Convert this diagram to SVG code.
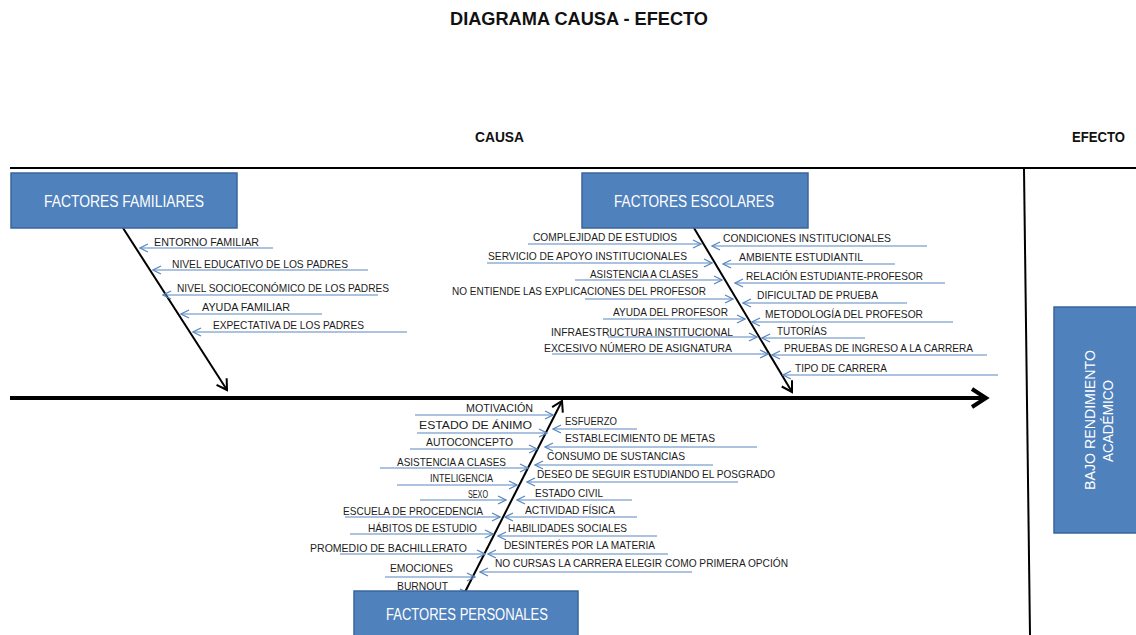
<svg xmlns="http://www.w3.org/2000/svg" width="1136" height="635" viewBox="0 0 1136 635">
<style>
.box{fill:#4f81bd;stroke:#3a659b;stroke-width:1.5}
.btxt{font-family:"Liberation Sans",Arial,sans-serif;font-size:16px;fill:#fff}
.vtxt{font-family:"Liberation Sans",Arial,sans-serif;font-size:14px;fill:#fff;text-anchor:middle}
.hdr{font-family:"Liberation Sans",Arial,sans-serif;font-weight:bold;fill:#111}
.lbl{font-family:"Liberation Sans",Arial,sans-serif;font-size:11px;fill:#1c1c1c}
.bone{stroke:#5a87c0;stroke-width:1.2;fill:none;marker-end:url(#ba)}
.diag{stroke:#000;stroke-width:2;fill:none;marker-end:url(#ka)}
.frame{stroke:#000;stroke-width:2;fill:none}
</style>
<defs>
<marker id="ba" markerUnits="userSpaceOnUse" markerWidth="10" markerHeight="10" viewBox="0 0 10 10" refX="9" refY="5" orient="auto">
<path d="M1,1 L9,5 L1,9" fill="none" stroke="#5a87c0" stroke-width="1.3"/>
</marker>
<marker id="ka" markerUnits="userSpaceOnUse" markerWidth="14" markerHeight="14" viewBox="0 0 14 14" refX="12" refY="7" orient="auto">
<path d="M2,1 L12,7 L2,13" fill="none" stroke="#000" stroke-width="2"/>
</marker>
<marker id="sa" markerUnits="userSpaceOnUse" markerWidth="22" markerHeight="22" viewBox="0 0 22 22" refX="18" refY="11" orient="auto">
<path d="M4,2 L18,11 L4,20" fill="none" stroke="#000" stroke-width="4"/>
</marker>
</defs>
<rect width="1136" height="635" fill="#fff"/>

<g id="headers">
<text class="hdr" x="450" y="25" font-size="18" textLength="258" lengthAdjust="spacingAndGlyphs">DIAGRAMA CAUSA - EFECTO</text>
<text class="hdr" x="475" y="142" font-size="15" textLength="49" lengthAdjust="spacingAndGlyphs">CAUSA</text>
<text class="hdr" x="1072" y="142" font-size="15" textLength="53" lengthAdjust="spacingAndGlyphs">EFECTO</text>
</g>

<g id="frame">
<line class="frame" x1="10" y1="168" x2="1136" y2="168"/>
<line class="frame" x1="1024" y1="169" x2="1030" y2="635"/>
</g>

<g id="connectors">
<line x1="10" y1="398" x2="986" y2="398" stroke="#000" stroke-width="4" marker-end="url(#sa)"/>
<line class="diag" x1="123" y1="228" x2="227" y2="390"/>
<line class="diag" x1="694" y1="228" x2="792" y2="392"/>
<line class="diag" x1="465" y1="592" x2="562" y2="401"/>
<!-- familiares -->
<line class="bone" x1="273" y1="248" x2="140" y2="248"/>
<line class="bone" x1="368" y1="270" x2="153" y2="270"/>
<line class="bone" x1="378" y1="295" x2="163" y2="295"/>
<line class="bone" x1="322" y1="314" x2="181" y2="314"/>
<line class="bone" x1="407" y1="332" x2="193" y2="332"/>
<!-- escolares left -->
<line class="bone" x1="528" y1="244" x2="701" y2="244"/>
<line class="bone" x1="487" y1="263" x2="712" y2="263"/>
<line class="bone" x1="575" y1="280" x2="722" y2="280"/>
<line class="bone" x1="585" y1="299" x2="733" y2="299"/>
<line class="bone" x1="603" y1="319" x2="745" y2="319"/>
<line class="bone" x1="608" y1="337" x2="757" y2="337"/>
<line class="bone" x1="552" y1="354" x2="768" y2="354"/>
<!-- escolares right -->
<line class="bone" x1="927" y1="246" x2="712" y2="246"/>
<line class="bone" x1="895" y1="264" x2="723" y2="264"/>
<line class="bone" x1="945" y1="283" x2="735" y2="283"/>
<line class="bone" x1="907" y1="303" x2="743" y2="303"/>
<line class="bone" x1="953" y1="322" x2="752" y2="322"/>
<line class="bone" x1="865" y1="338" x2="762" y2="338"/>
<line class="bone" x1="987" y1="355" x2="772" y2="355"/>
<line class="bone" x1="998" y1="375" x2="783" y2="375"/>
<!-- personales left -->
<line class="bone" x1="415" y1="415" x2="553" y2="415"/>
<line class="bone" x1="417" y1="433" x2="547" y2="433"/>
<line class="bone" x1="410" y1="449" x2="537" y2="449"/>
<line class="bone" x1="380" y1="468" x2="528" y2="468"/>
<line class="bone" x1="397" y1="485" x2="517" y2="485"/>
<line class="bone" x1="420" y1="500" x2="506" y2="500"/>
<line class="bone" x1="345" y1="517" x2="500" y2="517"/>
<line class="bone" x1="350" y1="534" x2="493" y2="534"/>
<line class="bone" x1="340" y1="554" x2="485" y2="554"/>
<line class="bone" x1="385" y1="577" x2="475" y2="577"/>
<line class="bone" x1="380" y1="593" x2="468" y2="593"/>
<!-- personales right -->
<line class="bone" x1="637" y1="429" x2="553" y2="429"/>
<line class="bone" x1="757" y1="447" x2="545" y2="447"/>
<line class="bone" x1="713" y1="465" x2="535" y2="465"/>
<line class="bone" x1="738" y1="482" x2="527" y2="482"/>
<line class="bone" x1="632" y1="500" x2="517" y2="500"/>
<line class="bone" x1="637" y1="517" x2="505" y2="517"/>
<line class="bone" x1="657" y1="536" x2="498" y2="536"/>
<line class="bone" x1="668" y1="554" x2="488" y2="554"/>
<line class="bone" x1="692" y1="572" x2="480" y2="572"/>
</g>

<g id="node-familiares">
<rect class="box" x="11" y="173" width="226" height="55"/>
<text class="btxt" x="44" y="207" textLength="160" lengthAdjust="spacingAndGlyphs">FACTORES FAMILIARES</text>
</g>
<g id="node-escolares">
<rect class="box" x="582" y="173" width="226" height="55"/>
<text class="btxt" x="614" y="207" textLength="160" lengthAdjust="spacingAndGlyphs">FACTORES ESCOLARES</text>
</g>
<g id="node-personales">
<rect class="box" x="354" y="591" width="224" height="50"/>
<text class="btxt" x="386" y="620" textLength="162" lengthAdjust="spacingAndGlyphs">FACTORES PERSONALES</text>
</g>
<g id="node-efecto">
<rect class="box" x="1054" y="307" width="90" height="226"/>
<text class="vtxt" transform="translate(1095,420) rotate(-90)" textLength="140" lengthAdjust="spacingAndGlyphs">BAJO RENDIMIENTO</text>
<text class="vtxt" transform="translate(1113,421) rotate(-90)" textLength="82" lengthAdjust="spacingAndGlyphs">ACADÉMICO</text>
</g>

<g id="causes-familiares">
<text class="lbl" x="154" y="246" textLength="105" lengthAdjust="spacingAndGlyphs">ENTORNO FAMILIAR</text>
<text class="lbl" x="172" y="268" textLength="176" lengthAdjust="spacingAndGlyphs">NIVEL EDUCATIVO DE LOS PADRES</text>
<text class="lbl" x="177" y="292" textLength="212" lengthAdjust="spacingAndGlyphs">NIVEL SOCIOECONÓMICO DE LOS PADRES</text>
<text class="lbl" x="202" y="311" textLength="88" lengthAdjust="spacingAndGlyphs">AYUDA FAMILIAR</text>
<text class="lbl" x="213" y="329" textLength="151" lengthAdjust="spacingAndGlyphs">EXPECTATIVA DE LOS PADRES</text>
</g>

<g id="causes-escolares">
<text class="lbl" x="533" y="241" textLength="144" lengthAdjust="spacingAndGlyphs">COMPLEJIDAD DE ESTUDIOS</text>
<text class="lbl" x="488" y="260" textLength="199" lengthAdjust="spacingAndGlyphs">SERVICIO DE APOYO INSTITUCIONALES</text>
<text class="lbl" x="590" y="278" textLength="108" lengthAdjust="spacingAndGlyphs">ASISTENCIA A CLASES</text>
<text class="lbl" x="452" y="295" textLength="254" lengthAdjust="spacingAndGlyphs">NO ENTIENDE LAS EXPLICACIONES DEL PROFESOR</text>
<text class="lbl" x="613" y="316" textLength="115" lengthAdjust="spacingAndGlyphs">AYUDA DEL PROFESOR</text>
<text class="lbl" x="551" y="336" textLength="182" lengthAdjust="spacingAndGlyphs">INFRAESTRUCTURA INSTITUCIONAL</text>
<text class="lbl" x="544" y="352" textLength="188" lengthAdjust="spacingAndGlyphs">EXCESIVO NÚMERO DE ASIGNATURA</text>
<text class="lbl" x="723" y="242" textLength="168" lengthAdjust="spacingAndGlyphs">CONDICIONES INSTITUCIONALES</text>
<text class="lbl" x="739" y="261" textLength="124" lengthAdjust="spacingAndGlyphs">AMBIENTE ESTUDIANTIL</text>
<text class="lbl" x="746" y="280" textLength="177" lengthAdjust="spacingAndGlyphs">RELACIÓN ESTUDIANTE-PROFESOR</text>
<text class="lbl" x="757" y="299" textLength="121" lengthAdjust="spacingAndGlyphs">DIFICULTAD DE PRUEBA</text>
<text class="lbl" x="765" y="318" textLength="158" lengthAdjust="spacingAndGlyphs">METODOLOGÍA DEL PROFESOR</text>
<text class="lbl" x="777" y="335" textLength="50" lengthAdjust="spacingAndGlyphs">TUTORÍAS</text>
<text class="lbl" x="784" y="352" textLength="189" lengthAdjust="spacingAndGlyphs">PRUEBAS DE INGRESO A LA CARRERA</text>
<text class="lbl" x="795" y="372" textLength="92" lengthAdjust="spacingAndGlyphs">TIPO DE CARRERA</text>
</g>

<g id="causes-personales">
<text class="lbl" x="466" y="412" textLength="67" lengthAdjust="spacingAndGlyphs">MOTIVACIÓN</text>
<text class="lbl" x="419" y="429" textLength="113" lengthAdjust="spacingAndGlyphs">ESTADO DE ÁNIMO</text>
<text class="lbl" x="426" y="446" textLength="87" lengthAdjust="spacingAndGlyphs">AUTOCONCEPTO</text>
<text class="lbl" x="397" y="466" textLength="109" lengthAdjust="spacingAndGlyphs">ASISTENCIA A CLASES</text>
<text class="lbl" x="430" y="482" textLength="63" lengthAdjust="spacingAndGlyphs">INTELIGENCIA</text>
<text class="lbl" x="468" y="498" textLength="20" lengthAdjust="spacingAndGlyphs">SEXO</text>
<text class="lbl" x="343" y="515" textLength="140" lengthAdjust="spacingAndGlyphs">ESCUELA DE PROCEDENCIA</text>
<text class="lbl" x="368" y="532" textLength="109" lengthAdjust="spacingAndGlyphs">HÁBITOS DE ESTUDIO</text>
<text class="lbl" x="310" y="552" textLength="157" lengthAdjust="spacingAndGlyphs">PROMEDIO DE BACHILLERATO</text>
<text class="lbl" x="390" y="572" textLength="63" lengthAdjust="spacingAndGlyphs">EMOCIONES</text>
<text class="lbl" x="397" y="590" textLength="51" lengthAdjust="spacingAndGlyphs">BURNOUT</text>
<text class="lbl" x="565" y="425" textLength="52" lengthAdjust="spacingAndGlyphs">ESFUERZO</text>
<text class="lbl" x="565" y="442" textLength="150" lengthAdjust="spacingAndGlyphs">ESTABLECIMIENTO DE METAS</text>
<text class="lbl" x="547" y="460" textLength="138" lengthAdjust="spacingAndGlyphs">CONSUMO DE SUSTANCIAS</text>
<text class="lbl" x="537" y="478" textLength="238" lengthAdjust="spacingAndGlyphs">DESEO DE SEGUIR ESTUDIANDO EL POSGRADO</text>
<text class="lbl" x="535" y="497" textLength="68" lengthAdjust="spacingAndGlyphs">ESTADO CIVIL</text>
<text class="lbl" x="525" y="514" textLength="90" lengthAdjust="spacingAndGlyphs">ACTIVIDAD FÍSICA</text>
<text class="lbl" x="508" y="532" textLength="119" lengthAdjust="spacingAndGlyphs">HABILIDADES SOCIALES</text>
<text class="lbl" x="504" y="549" textLength="151" lengthAdjust="spacingAndGlyphs">DESINTERÉS POR LA MATERIA</text>
<text class="lbl" x="495" y="567" textLength="293" lengthAdjust="spacingAndGlyphs">NO CURSAS LA CARRERA ELEGIR COMO PRIMERA OPCIÓN</text>
</g>
</svg>
